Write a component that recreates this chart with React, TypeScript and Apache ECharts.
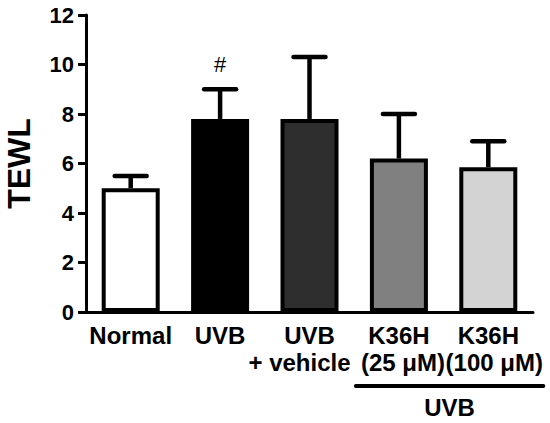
import React, { useEffect, useRef } from "react";
import * as echarts from "echarts";

const categories = ["Normal", "UVB", "UVB\n+ vehicle", "K36H\n(25 μM)", "K36H\n(100 μM)"];
const means = [5.0, 7.8, 7.8, 6.2, 5.85];
const errors = [0.5, 1.2, 2.5, 1.8, 1.05];
const barColors = ["#ffffff", "#000000", "#2e2e2e", "#808080", "#d3d3d3"];
const marks = ["", "#", "", "", ""];
const groupLabel = "UVB";
const yName = "TEWL";

const FONT = "Arial, 'Liberation Sans', Helvetica, sans-serif";

export default function App() {
  const ref = useRef<HTMLDivElement>(null);
  useEffect(() => {
    document.body.style.margin = "0";
    const chart = echarts.init(ref.current!, null, { renderer: "svg" });
    const labelFont = { color: "#000", fontFamily: FONT, fontWeight: "bold", fontSize: 24, lineHeight: 27 };
    const option: any = {
      animation: false,
      backgroundColor: "#ffffff",
      grid: { left: 86, right: 17, top: 15, bottom: 111, containLabel: false, outerBoundsMode: "none" },
      xAxis: {
        type: "category",
        data: categories,
        axisLine: { lineStyle: { color: "#000", width: 3 } },
        axisTick: { alignWithLabel: true, length: 10, lineStyle: { color: "#000", width: 3 } },
        axisLabel: {
          ...labelFont,
          margin: 10,
          interval: 0,
          formatter: (value: string, index: number) => {
            const parts = value.split("\n");
            if (parts.length < 2) return value;
            return parts[0] + "\n{p" + index + "|" + parts[1] + "}";
          },
          rich: {
            p2: { ...labelFont, padding: [0, 20, 0, 0] },
            p3: { ...labelFont, padding: [0, 0, 0, 8] },
            p4: { ...labelFont, padding: [0, 0, 0, 12] },
          },
        },
      },
      yAxis: {
        type: "value",
        min: 0,
        max: 12,
        interval: 2,
        name: yName,
        nameLocation: "middle",
        nameRotate: 90,
        nameGap: 51,
        nameTextStyle: { color: "#000", fontFamily: FONT, fontWeight: "bold", fontSize: 32 },
        axisLine: { show: true, lineStyle: { color: "#000", width: 3 } },
        axisTick: { show: true, length: 8, lineStyle: { color: "#000", width: 3 } },
        splitLine: { show: false },
        axisLabel: { color: "#000", fontFamily: FONT, fontWeight: "bold", fontSize: 22, margin: 12 },
      },
      series: [
        {
          type: "bar",
          barWidth: 58,
          data: means.map((v, i) => ({
            value: v,
            itemStyle: { color: barColors[i], borderColor: "#000", borderWidth: 4 },
          })),
          z: 2,
        },
        {
          type: "custom",
          z: 3,
          data: means.map((m, i) => [i, m, errors[i]]),
          encode: { x: 0, y: 1 },
          renderItem: (params: any, api: any) => {
            const i = api.value(0);
            const m = api.value(1);
            const e = api.value(2);
            const base = api.coord([i, m]);
            const top = api.coord([i, m + e]);
            const half = 16;
            const children: any[] = [
              { type: "line", shape: { x1: base[0], y1: base[1], x2: top[0], y2: top[1] }, style: { stroke: "#000", lineWidth: 4.5 } },
              { type: "line", shape: { x1: top[0] - half, y1: top[1], x2: top[0] + half, y2: top[1] }, style: { stroke: "#000", lineWidth: 4.5, lineCap: "round" } },
            ];
            const mk = marks[params.dataIndex];
            if (mk) {
              children.push({
                type: "text",
                x: top[0],
                y: top[1] - 25,
                style: { text: mk, fill: "#000", fontSize: 22, fontFamily: FONT, align: "center", verticalAlign: "middle" },
              });
            }
            return { type: "group", children };
          },
        },
      ],
    };
    chart.setOption(option);
    const x3 = chart.convertToPixel({ xAxisIndex: 0 }, 3) as number;
    const x4 = chart.convertToPixel({ xAxisIndex: 0 }, 4) as number;
    const y0 = chart.convertToPixel({ yAxisIndex: 0 }, 0) as number;
    const left = x3 - 43;
    const right = x4 + 55;
    chart.setOption({
      graphic: [
        { type: "line", shape: { x1: left, y1: y0 + 74, x2: right, y2: y0 + 74 }, style: { stroke: "#000", lineWidth: 4, lineCap: "round" } },
        {
          type: "text",
          x: (left + right) / 2,
          y: y0 + 95,
          style: { text: groupLabel, fill: "#000", fontSize: 24, fontWeight: "bold", fontFamily: FONT, align: "center", verticalAlign: "middle" },
        },
      ],
    });
    return () => chart.dispose();
  }, []);
  return <div ref={ref} style={{ width: 550, height: 423 }} />;
}
